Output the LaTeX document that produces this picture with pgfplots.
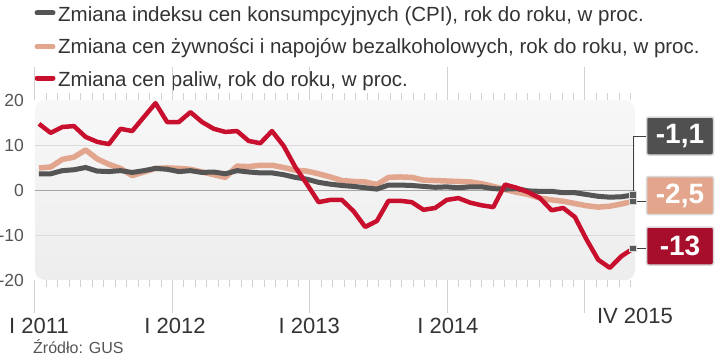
\documentclass[border=0pt]{standalone}
\usepackage{fontspec}
\setmainfont{Liberation Sans}
\usepackage{pgfplots}
\usepackage{pgfplotstable}
\pgfplotsset{compat=1.18}
\definecolor{cpi}{HTML}{555555}
\definecolor{food}{HTML}{E2A58D}
\definecolor{fuel}{HTML}{C8102E}
\definecolor{boxcpi}{HTML}{505050}
\definecolor{boxfood}{HTML}{E3A58B}
\definecolor{boxfuel}{HTML}{A70E2B}
\definecolor{txt}{HTML}{333333}
\definecolor{lbl}{HTML}{555555}
\pgfplotstableread{
i cpi food fuel
0 3.6 4.9 14.7
1 3.6 5.1 12.7
2 4.3 6.8 14.0
3 4.5 7.3 14.2
4 5.0 8.9 11.8
5 4.2 6.9 10.7
6 4.1 5.7 10.2
7 4.3 4.8 13.6
8 3.9 3.2 13.1
9 4.3 4.0 16.2
10 4.8 4.8 19.3
11 4.6 4.9 15.1
12 4.1 4.8 15.1
13 4.3 4.6 17.3
14 3.9 4.0 15.1
15 4.0 3.4 13.6
16 3.6 2.8 12.9
17 4.3 5.3 13.1
18 4.0 5.2 10.9
19 3.8 5.5 10.4
20 3.8 5.5 13.1
21 3.4 5.0 9.8
22 2.8 4.4 5.1
23 2.4 4.2 1.3
24 1.7 3.6 -2.7
25 1.3 2.9 -2.2
26 1.0 2.1 -2.2
27 0.8 1.9 -4.7
28 0.5 1.8 -8.2
29 0.2 1.2 -6.9
30 1.1 2.8 -2.4
31 1.1 2.9 -2.4
32 1.0 2.8 -2.7
33 0.8 2.2 -4.4
34 0.6 2.1 -4.0
35 0.7 2.0 -2.2
36 0.5 1.9 -1.8
37 0.7 1.8 -2.8
38 0.7 1.4 -3.4
39 0.3 0.8 -3.8
40 0.2 0.1 1.2
41 0.3 -0.5 0.5
42 -0.2 -1.0 -0.5
43 -0.3 -1.8 -1.8
44 -0.3 -2.2 -4.5
45 -0.6 -2.5 -4.0
46 -0.6 -3.0 -6.0
47 -1.0 -3.5 -11.0
48 -1.4 -3.8 -15.5
49 -1.6 -3.6 -17.3
50 -1.5 -3.1 -14.7
51 -1.1 -2.5 -13.0
}\datatable
\begin{document}
\begin{tikzpicture}
\path[use as bounding box] (0,0) rectangle (720pt,357pt);
% legend
\draw[cpi, line width=5pt, line cap=round] (37pt,344pt) -- (53pt,344pt);
\draw[food, line width=5pt, line cap=round] (37pt,310pt) -- (53pt,310pt);
\draw[fuel, line width=5pt, line cap=round] (37pt,279pt) -- (53pt,279pt);
\node[anchor=base west, inner sep=0pt, text=txt, font=\fontsize{20.5}{24}\selectfont] at (58pt,335.7pt) {Zmiana indeksu cen konsumpcyjnych (CPI), rok do roku, w proc.};
\node[anchor=base west, inner sep=0pt, text=txt, font=\fontsize{20.5}{24}\selectfont] at (58pt,303.2pt) {Zmiana cen żywności i napojów bezalkoholowych, rok do roku, w proc.};
\node[anchor=base west, inner sep=0pt, text=txt, font=\fontsize{20.5}{24}\selectfont] at (58pt,270.7pt) {Zmiana cen paliw, rok do roku, w proc.};
\begin{axis}[
  at={(35pt,77pt)}, anchor=south west,
  width=600pt, height=180pt, scale only axis,
  xmin=-0.343, xmax=51.16, ymin=-20, ymax=20,
  axis line style={draw=none},
  axis background/.style={top color=black!3, bottom color=black!7, rounded corners=10pt},
  clip=false,
  xtick={-0.343,11.459,23.261,35.063,46.865},
  xticklabels={},
  minor xtick={-0.343,0.6405,...,51},
  tick align=outside,
  major tick length=33pt, minor tick length=7pt,
  xtick style={draw=black!18, line width=1pt},
  ytick={-20,-10,0,10,20},
  yticklabels={-20,-10,0,10,20},
  ytick style={draw=none},
  yticklabel style={anchor=east, inner sep=0pt, xshift=22pt, text=lbl, font=\fontsize{17.5}{20}\selectfont},
  /pgf/number format/assume math mode=true,
]
\draw[black!14, line width=1pt] (axis cs:-0.343,10) -- (axis cs:51.16,10);
\draw[black!14, line width=1pt] (axis cs:-0.343,-10) -- (axis cs:51.16,-10);
\draw[black!35, line width=1pt] (axis cs:-0.343,0) -- (axis cs:51.16,0);
\addplot[food, line width=5.5pt, line join=round, mark=none] table[x=i, y=food] {\datatable};
\addplot[cpi, line width=5pt, line join=round, mark=none] table[x=i, y=cpi] {\datatable};
\addplot[fuel, line width=4.5pt, line join=round, mark=none] table[x=i, y=fuel] {\datatable};
\addplot[only marks, mark=square*, mark size=3.2pt, mark options={fill=black!65, draw=black!15, line width=1pt}] coordinates {(51,-1.1) (51,-2.5) (51,-13)};
\coordinate (mcpi) at (axis cs:51,-1.1);
\coordinate (mfood) at (axis cs:51,-2.5);
\coordinate (mfuel) at (axis cs:51,-13);
\node[anchor=base, inner sep=0pt, text=txt, font=\fontsize{22}{26}\selectfont] at ([yshift=-53.4pt]axis cs:0,-20) {I 2011};
\node[anchor=base, inner sep=0pt, text=txt, font=\fontsize{22}{26}\selectfont] at ([yshift=-53.4pt]axis cs:11.67,-20) {I 2012};
\node[anchor=base, inner sep=0pt, text=txt, font=\fontsize{22}{26}\selectfont] at ([yshift=-53.4pt]axis cs:23.2,-20) {I 2013};
\node[anchor=base, inner sep=0pt, text=txt, font=\fontsize{22}{26}\selectfont] at ([yshift=-53.4pt]axis cs:35.1,-20) {I 2014};
\node[anchor=base, inner sep=0pt, text=txt, font=\fontsize{22}{26}\selectfont] at ([yshift=-43.4pt]axis cs:51.16,-20) {IV 2015};
\end{axis}
\node[anchor=base west, inner sep=0pt, text=lbl, font=\fontsize{16}{19}\selectfont] at (33pt,3.6pt) {Źródło: GUS};
% value boxes
\tikzset{vbox/.style={draw=black!15, line width=1.5pt, rounded corners=2pt, minimum width=67pt, minimum height=38pt, inner sep=0pt, text=white, font=\fontsize{28}{30}\selectfont\bfseries}}
\node[vbox, fill=boxcpi] (b1) at (680pt,221pt) {-1,1};
\node[vbox, fill=boxfood] (b2) at (680pt,161.5pt) {-2,5};
\node[vbox, fill=boxfuel] (b3) at (680pt,111pt) {-13};
\draw[black!75, line width=0.9pt] ([yshift=4pt]mcpi) |- (b1.west);
\draw[black!75, line width=0.9pt] ([xshift=4pt]mfood) -- (b2.west |- mfood);
\draw[black!75, line width=0.9pt] ([xshift=4pt]mfuel) -- (b3.west |- mfuel);
\end{tikzpicture}
\end{document}
